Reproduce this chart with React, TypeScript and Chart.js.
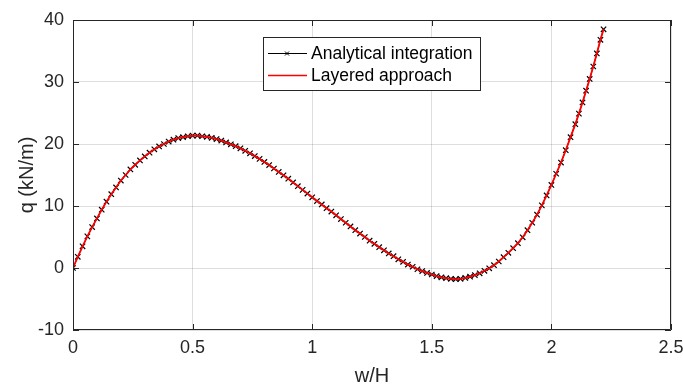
import React, { useEffect, useRef } from "react";
import { Chart, registerables } from "chart.js";

Chart.register(...registerables);

// w/H values of the computed points
const W_OVER_H = [
  0, 0.02, 0.04, 0.06, 0.08, 0.1, 0.12, 0.14, 0.16, 0.18,
  0.2, 0.22, 0.24, 0.26, 0.28, 0.3, 0.32, 0.34, 0.36, 0.38,
  0.4, 0.42, 0.44, 0.46, 0.48, 0.5, 0.52, 0.54, 0.56, 0.58,
  0.6, 0.62, 0.64, 0.66, 0.68, 0.7, 0.72, 0.74, 0.76, 0.78,
  0.8, 0.82, 0.84, 0.86, 0.88, 0.9, 0.92, 0.94, 0.96, 0.98,
  1.0, 1.02, 1.04, 1.06, 1.08, 1.1, 1.12, 1.14, 1.16, 1.18,
  1.2, 1.22, 1.24, 1.26, 1.28, 1.3, 1.32, 1.34, 1.36, 1.38,
  1.4, 1.42, 1.44, 1.46, 1.48, 1.5, 1.52, 1.54, 1.56, 1.58,
  1.6, 1.62, 1.64, 1.66, 1.68, 1.7, 1.72, 1.74, 1.76, 1.78,
  1.8, 1.82, 1.84, 1.86, 1.88, 1.9, 1.92, 1.94, 1.96, 1.98,
  2.0, 2.02, 2.04, 2.06, 2.08, 2.1, 2.115, 2.13, 2.145, 2.16,
  2.175, 2.19, 2.205, 2.218,
];

// q (kN/m) – analytical integration
const Q_ANALYTICAL = [
  0, 1.8, 3.5, 5.1, 6.6, 8.0, 9.4, 10.7, 11.9, 13.0,
  14.1, 15.0, 15.9, 16.65, 17.35, 18.0, 18.6, 19.15, 19.6, 20.0,
  20.4, 20.7, 20.95, 21.1, 21.25, 21.35, 21.35, 21.25, 21.15, 21.0,
  20.8, 20.55, 20.25, 19.95, 19.65, 19.3, 18.9, 18.5, 18.05, 17.6,
  17.1, 16.6, 16.05, 15.5, 14.95, 14.4, 13.8, 13.2, 12.6, 12.0,
  11.4, 10.8, 10.25, 9.65, 9.1, 8.5, 7.9, 7.3, 6.7, 6.1,
  5.55, 5.0, 4.4, 3.9, 3.35, 2.85, 2.35, 1.9, 1.4, 1.0,
  0.55, 0.2, -0.2, -0.5, -0.8, -1.05, -1.3, -1.5, -1.65, -1.75,
  -1.8, -1.75, -1.6, -1.4, -1.15, -0.85, -0.45, -0.05, 0.45, 1.05,
  1.75, 2.45, 3.2, 4.0, 4.95, 6.1, 7.3, 8.6, 10.1, 11.7,
  13.4, 15.2, 17.0, 19.0, 21.1, 23.2, 24.9, 26.7, 28.6, 30.5,
  32.5, 34.6, 36.8, 38.5,
];

// q (kN/m) – layered approach
const Q_LAYERED = [
  0, 1.8, 3.5, 5.1, 6.6, 8.0, 9.4, 10.7, 11.9, 13.0,
  14.1, 15.0, 15.9, 16.65, 17.35, 18.0, 18.6, 19.15, 19.6, 20.0,
  20.4, 20.7, 20.95, 21.1, 21.25, 21.35, 21.35, 21.25, 21.15, 21.0,
  20.8, 20.55, 20.25, 19.95, 19.65, 19.3, 18.9, 18.5, 18.05, 17.6,
  17.1, 16.6, 16.05, 15.5, 14.95, 14.4, 13.8, 13.2, 12.6, 12.0,
  11.4, 10.8, 10.25, 9.65, 9.1, 8.5, 7.9, 7.3, 6.7, 6.1,
  5.55, 5.0, 4.4, 3.9, 3.35, 2.85, 2.35, 1.9, 1.4, 1.0,
  0.55, 0.2, -0.2, -0.5, -0.8, -1.05, -1.3, -1.5, -1.65, -1.75,
  -1.8, -1.75, -1.6, -1.4, -1.15, -0.85, -0.45, -0.05, 0.45, 1.05,
  1.75, 2.45, 3.2, 4.0, 4.95, 6.1, 7.3, 8.6, 10.1, 11.7,
  13.4, 15.2, 17.0, 19.0, 21.1, 23.2, 24.9, 26.7, 28.6, 30.5,
  32.5, 34.6, 36.8, 38.5,
];

const X_TICKS = [0, 0.5, 1, 1.5, 2, 2.5];
const Y_TICKS = [-10, 0, 10, 20, 30, 40];
const SERIES_LABELS = ["Analytical integration", "Layered approach"];
const X_TITLE = "w/H";
const Y_TITLE = "q (kN/m)";

const FONT = '"Liberation Sans", Arial, Helvetica, sans-serif';
const AXIS = "#262626";
const GRID = "rgba(0,0,0,0.13)";

export default function App() {
  const ref = useRef<HTMLCanvasElement>(null);

  useEffect(() => {
    document.body.style.margin = "0";
    const canvas = ref.current!;

    const framePlugin = {
      id: "frame",
      afterDraw(chart: any) {
        const { ctx, chartArea } = chart;
        const { left, right, top, bottom } = chartArea;
        const xs = chart.scales.x;
        const ys = chart.scales.y;
        ctx.save();
        ctx.strokeStyle = AXIS;
        ctx.lineWidth = 1;
        ctx.beginPath();
        ctx.rect(left + 0.5, top + 0.5, right - left - 1, bottom - top - 1);
        ctx.stroke();
        const tl = 6;
        ctx.beginPath();
        X_TICKS.forEach((v) => {
          const px = Math.round(xs.getPixelForValue(v)) + 0.5;
          ctx.moveTo(px, bottom);
          ctx.lineTo(px, bottom - tl);
          ctx.moveTo(px, top);
          ctx.lineTo(px, top + tl);
        });
        Y_TICKS.forEach((v) => {
          const py = Math.round(ys.getPixelForValue(v)) + 0.5;
          ctx.moveTo(left, py);
          ctx.lineTo(left + tl, py);
          ctx.moveTo(right, py);
          ctx.lineTo(right - tl, py);
        });
        ctx.stroke();

        // legend box
        const bx = 263, by = 37, bw = 217, bh = 53;
        ctx.fillStyle = "#ffffff";
        ctx.fillRect(bx, by, bw, bh);
        ctx.strokeStyle = AXIS;
        ctx.strokeRect(bx + 0.5, by + 0.5, bw, bh);
        const rows = [53, 75];
        ctx.font = `17.5px ${FONT}`;
        ctx.textBaseline = "middle";
        ctx.textAlign = "left";
        // row 1
        ctx.strokeStyle = "#000000";
        ctx.lineWidth = 1;
        ctx.beginPath();
        ctx.moveTo(268, rows[0] + 0.5);
        ctx.lineTo(307, rows[0] + 0.5);
        ctx.moveTo(285, rows[0] - 1.5);
        ctx.lineTo(289, rows[0] + 2.5);
        ctx.moveTo(289, rows[0] - 1.5);
        ctx.lineTo(285, rows[0] + 2.5);
        ctx.stroke();
        // row 2
        ctx.strokeStyle = "#ff0000";
        ctx.lineWidth = 1.5;
        ctx.beginPath();
        ctx.moveTo(268, rows[1] + 0.5);
        ctx.lineTo(307, rows[1] + 0.5);
        ctx.stroke();
        ctx.fillStyle = "#000000";
        ctx.fillText(SERIES_LABELS[0], 311, rows[0] + 1);
        ctx.fillText(SERIES_LABELS[1], 311, rows[1] + 1);
        ctx.restore();
      },
    };

    const chart = new Chart(canvas, {
      type: "line",
      data: {
        datasets: [
          {
            label: SERIES_LABELS[0],
            data: W_OVER_H.map((x, i) => ({ x, y: Q_ANALYTICAL[i] })),
            borderColor: "#000000",
            backgroundColor: "#000000",
            borderWidth: 1,
            pointStyle: "crossRot",
            pointRadius: 3.8,
            pointBorderWidth: 1.2,
            pointBorderColor: "#000000",
            tension: 0,
            order: 2,
          },
          {
            label: SERIES_LABELS[1],
            data: W_OVER_H.map((x, i) => ({ x, y: Q_LAYERED[i] })),
            borderColor: "#ff0000",
            backgroundColor: "#ff0000",
            borderWidth: 1.8,
            pointRadius: 0,
            tension: 0,
            order: 1,
          },
        ],
      },
      options: {
        responsive: false,
        animation: false,
        layout: { padding: { top: 20, right: 0, left: 0, bottom: 0 } },
        plugins: {
          legend: { display: false },
          tooltip: { enabled: false },
        },
        scales: {
          x: {
            type: "linear",
            min: 0,
            max: 2.5,
            afterBuildTicks: (s: any) => {
              s.ticks = X_TICKS.map((v) => ({ value: v }));
            },
            afterFit: (s: any) => {
              s.height = 57;
              s.paddingRight = 12;
              s.paddingLeft = 0;
            },
            grid: { color: GRID, drawTicks: false },
            border: { display: false },
            ticks: {
              color: AXIS,
              padding: 7,
              maxRotation: 0,
              font: { family: FONT, size: 18 },
              callback: (v: any) => String(v),
            },
            title: {
              display: true,
              text: X_TITLE,
              color: AXIS,
              font: { family: FONT, size: 20 },
              padding: { top: 0, bottom: -1 },
            },
          },
          y: {
            type: "linear",
            min: -10,
            max: 40,
            afterBuildTicks: (s: any) => {
              s.ticks = Y_TICKS.map((v) => ({ value: v }));
            },
            afterFit: (s: any) => {
              s.width = 73;
              s.paddingTop = 0;
              s.paddingBottom = 0;
            },
            grid: { color: GRID, drawTicks: false },
            border: { display: false },
            ticks: {
              color: AXIS,
              padding: 9,
              font: { family: FONT, size: 18 },
              callback: (v: any) => String(v),
            },
            title: {
              display: true,
              text: Y_TITLE,
              color: AXIS,
              font: { family: FONT, size: 20 },
              padding: { top: 15, bottom: 0 },
            },
          },
        },
      },
      plugins: [framePlugin],
    });
    return () => chart.destroy();
  }, []);

  return (
    <div style={{ width: 683, height: 387 }}>
      <canvas ref={ref} width={683} height={387} style={{ display: "block" }} />
    </div>
  );
}
